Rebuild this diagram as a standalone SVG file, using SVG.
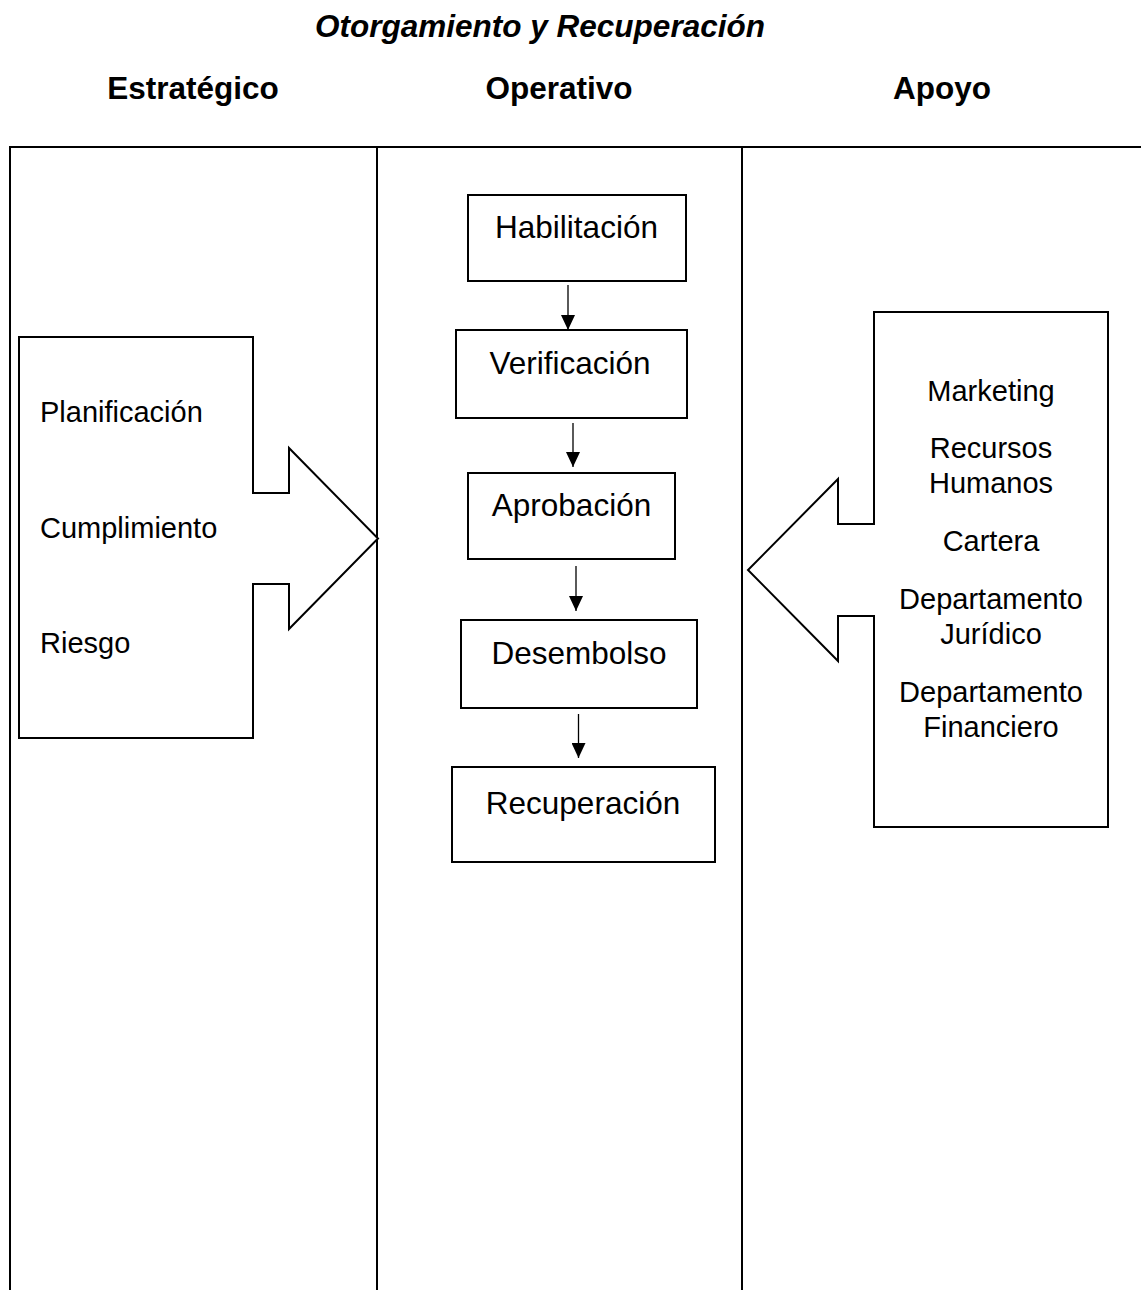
<svg xmlns="http://www.w3.org/2000/svg" width="1141" height="1290" viewBox="0 0 1141 1290">
  <style>
    .title { font-family: "Liberation Sans", Arial, sans-serif; font-size: 31.5px; font-weight: bold; font-style: italic; text-anchor: middle; fill: #000; }
    .head { font-family: "Liberation Sans", Arial, sans-serif; font-size: 31.5px; font-weight: bold; text-anchor: middle; fill: #000; }
    .box { fill: #fff; stroke: #000; stroke-width: 2; }
    .lbl { font-family: "Liberation Sans", Arial, sans-serif; font-size: 31.5px; text-anchor: middle; fill: #000; }
    .side { font-family: "Liberation Sans", Arial, sans-serif; font-size: 29px; fill: #000; }
    .sideC { font-family: "Liberation Sans", Arial, sans-serif; font-size: 29px; text-anchor: middle; fill: #000; }
    .grid { stroke: #000; stroke-width: 2; fill: none; }
    .flow { stroke: #000; stroke-width: 1.3; fill: none; marker-end: url(#head); }
  </style>
  <defs>
    <!-- solid triangular arrowhead, drawn along +x so orient="auto" follows the line -->
    <marker id="head" markerUnits="userSpaceOnUse" markerWidth="15" markerHeight="14" refX="15" refY="7" orient="auto" viewBox="0 0 15 14">
      <path d="M0,0 L15,7 L0,14 Z" fill="#000"/>
    </marker>
  </defs>

  <rect width="1141" height="1290" fill="#fff"/>

  <!-- headings -->
  <text class="title" x="540" y="37">Otorgamiento y Recuperación</text>
  <text class="head" x="193" y="99">Estratégico</text>
  <text class="head" x="559" y="99">Operativo</text>
  <text class="head" x="942" y="99">Apoyo</text>

  <!-- lane grid -->
  <g id="lanes" class="grid">
    <line x1="9" y1="147" x2="1141" y2="147"/>
    <line x1="10" y1="146" x2="10" y2="1290"/>
    <line x1="377" y1="146" x2="377" y2="1290"/>
    <line x1="742" y1="146" x2="742" y2="1290"/>
  </g>

  <!-- strategic block pointing right -->
  <g id="estrategico">
    <path class="box" d="M19,337 L253,337 L253,493 L289,493 L289,448 L378,538.5 L289,629 L289,584 L253,584 L253,738 L19,738 Z"/>
    <text class="side" x="40" y="422">Planificación</text>
    <text class="side" x="40" y="538">Cumplimiento</text>
    <text class="side" x="40" y="653">Riesgo</text>
  </g>

  <!-- support block pointing left -->
  <g id="apoyo">
    <path class="box" d="M874,312 L1108,312 L1108,827 L874,827 L874,616 L838,616 L838,661 L748,570 L838,479 L838,524 L874,524 Z"/>
    <text class="sideC" x="991" y="401">Marketing</text>
    <text class="sideC" x="991" y="458">Recursos</text>
    <text class="sideC" x="991" y="493">Humanos</text>
    <text class="sideC" x="991" y="551">Cartera</text>
    <text class="sideC" x="991" y="609">Departamento</text>
    <text class="sideC" x="991" y="644">Jurídico</text>
    <text class="sideC" x="991" y="702">Departamento</text>
    <text class="sideC" x="991" y="737">Financiero</text>
  </g>

  <!-- operative process steps -->
  <g id="habilitacion">
    <rect class="box" x="468" y="195" width="218" height="86"/>
    <text class="lbl" x="576.5" y="238">Habilitación</text>
  </g>
  <g id="verificacion">
    <rect class="box" x="456" y="330" width="231" height="88"/>
    <text class="lbl" x="570" y="374">Verificación</text>
  </g>
  <g id="aprobacion">
    <rect class="box" x="468" y="473" width="207" height="86"/>
    <text class="lbl" x="571.5" y="516">Aprobación</text>
  </g>
  <g id="desembolso">
    <rect class="box" x="461" y="620" width="236" height="88"/>
    <text class="lbl" x="579" y="664">Desembolso</text>
  </g>
  <g id="recuperacion">
    <rect class="box" x="452" y="767" width="263" height="95"/>
    <text class="lbl" x="583" y="814">Recuperación</text>
  </g>

  <!-- step connectors -->
  <g id="connectors">
    <line class="flow" x1="568" y1="285" x2="568" y2="330"/>
    <line class="flow" x1="573" y1="423" x2="573" y2="467"/>
    <line class="flow" x1="576" y1="566" x2="576" y2="611"/>
    <line class="flow" x1="578.5" y1="714" x2="578.5" y2="758"/>
  </g>
</svg>
